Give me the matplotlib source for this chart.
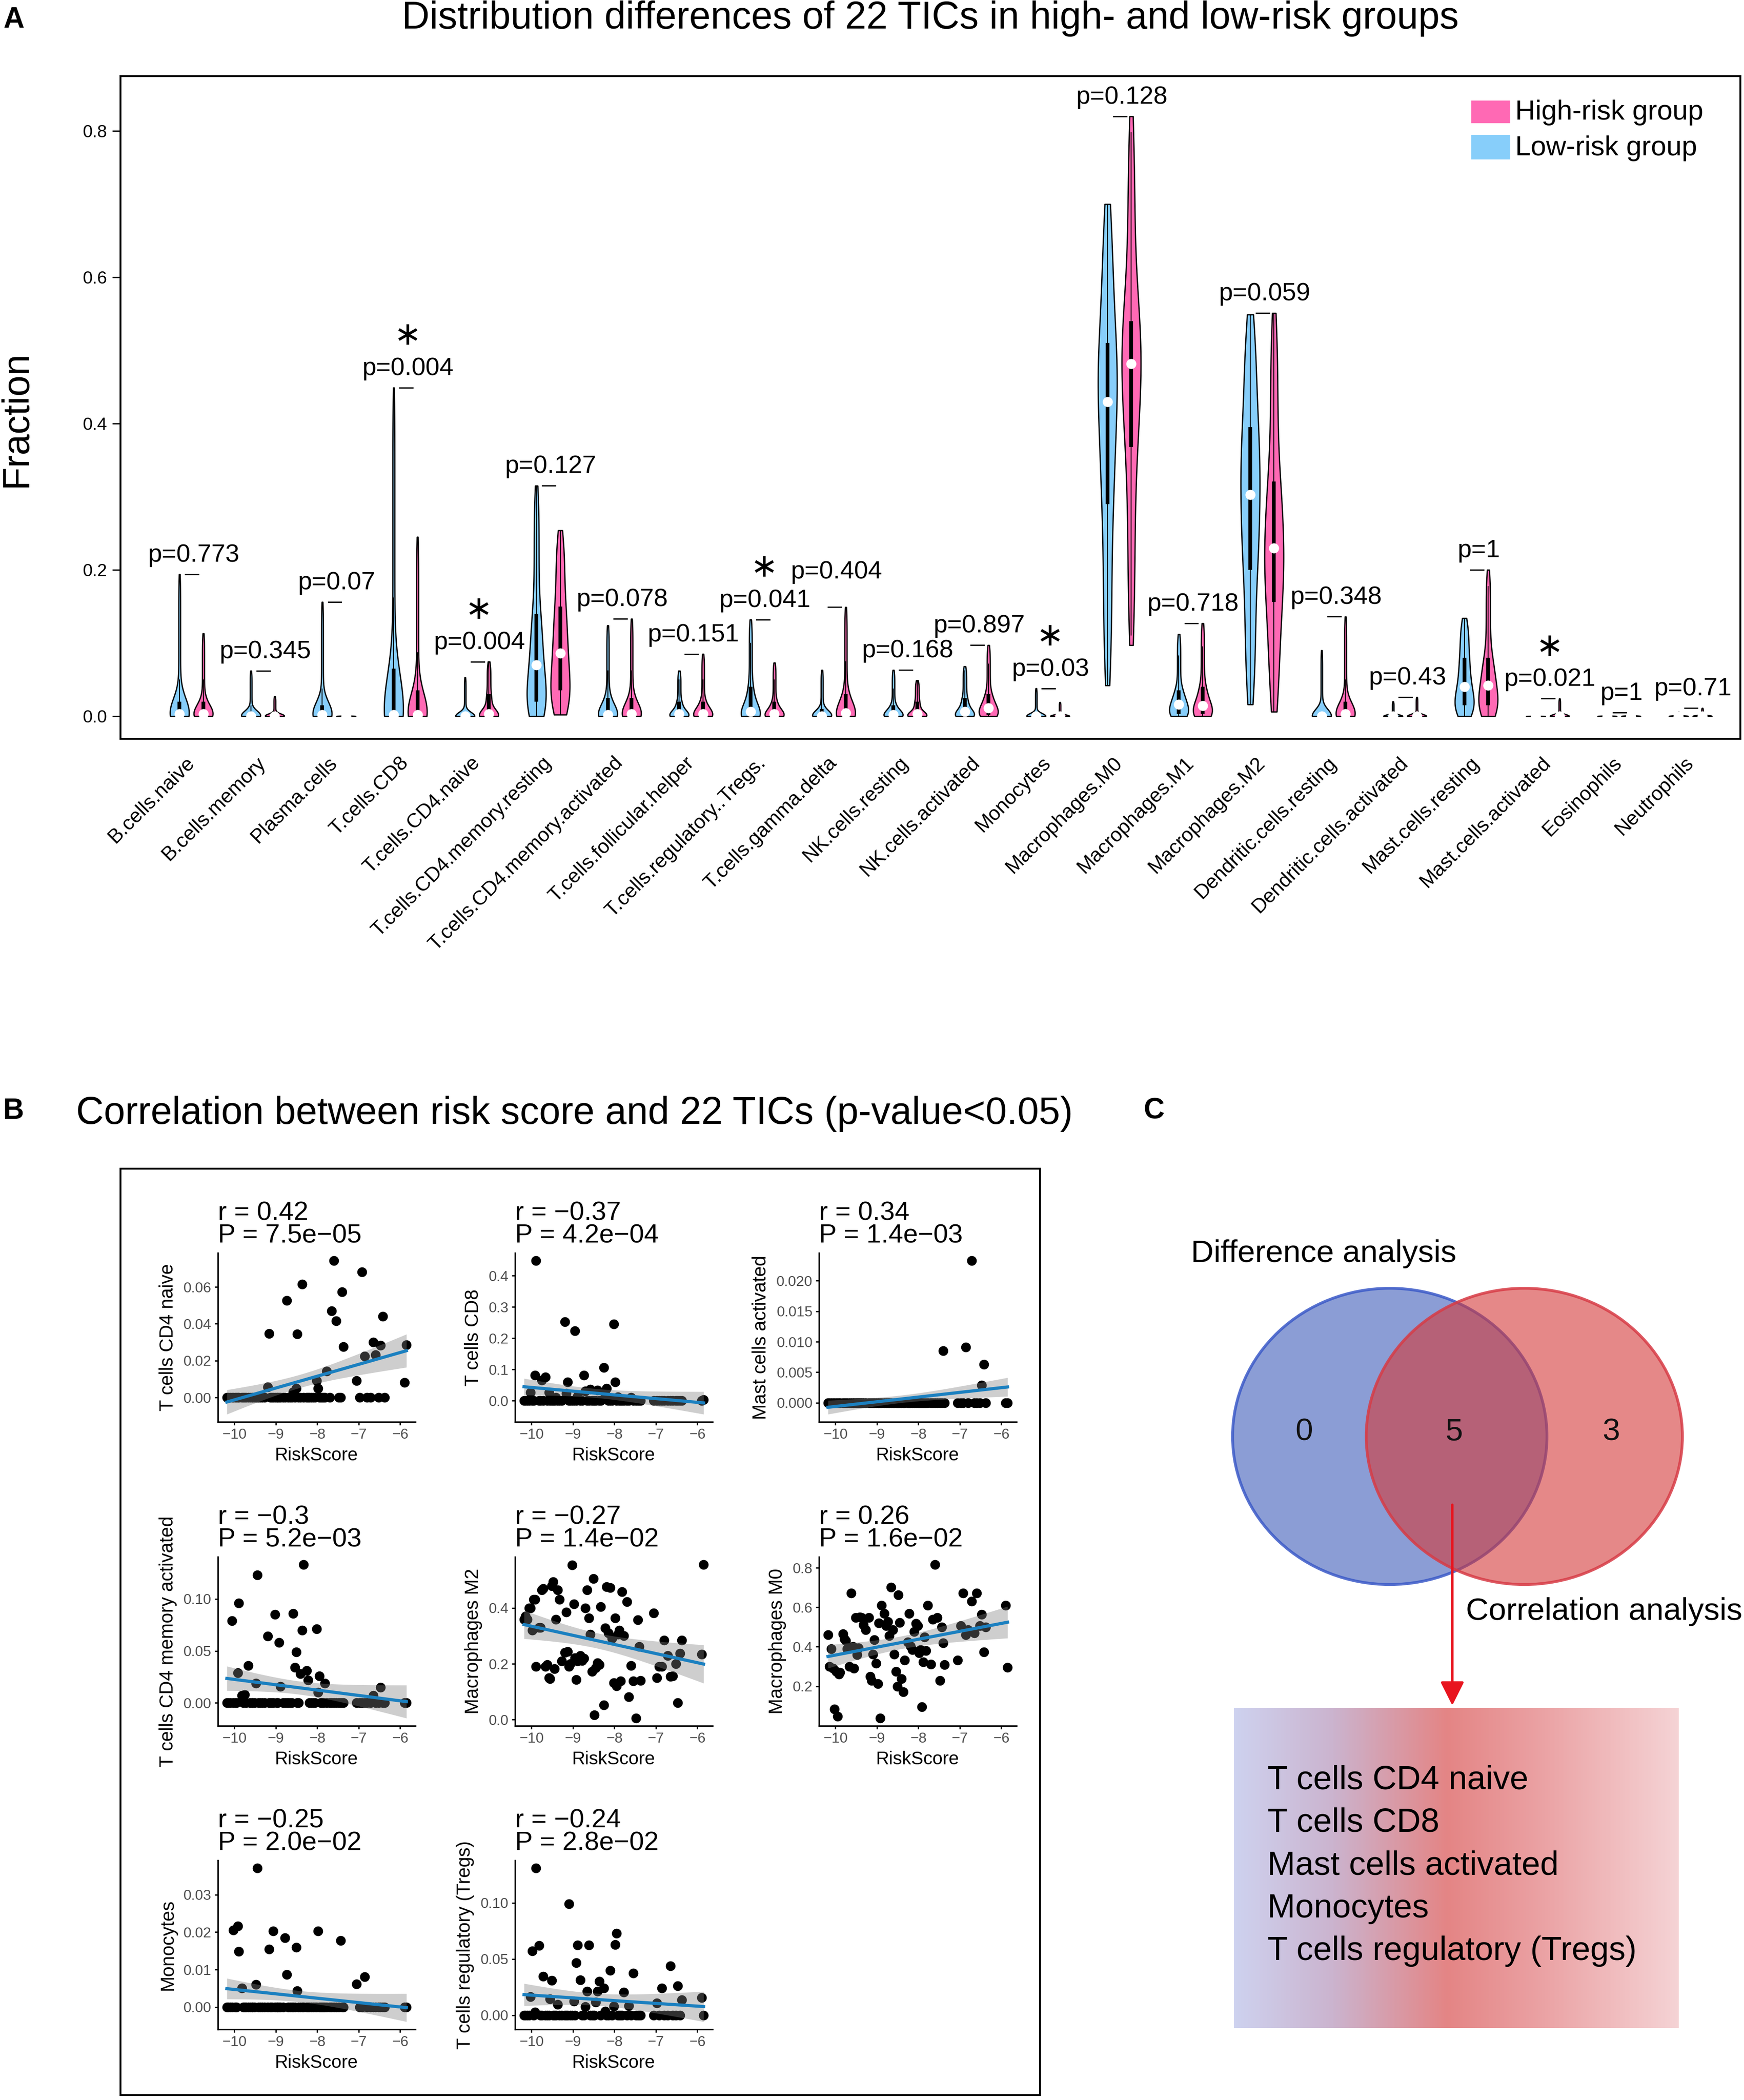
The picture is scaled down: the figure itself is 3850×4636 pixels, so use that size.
import math

import matplotlib.pyplot as plt
import numpy as np
from matplotlib.colors import LinearSegmentedColormap
from matplotlib.patches import Ellipse, Rectangle

plt.rcParams["font.family"] = ["Liberation Sans", "DejaVu Sans"]

W, H = 3850, 4636

# ---------------- panel A data ----------------
cells = ["B.cells.naive", "B.cells.memory", "Plasma.cells", "T.cells.CD8",
         "T.cells.CD4.naive", "T.cells.CD4.memory.resting",
         "T.cells.CD4.memory.activated", "T.cells.follicular.helper",
         "T.cells.regulatory..Tregs.", "T.cells.gamma.delta", "NK.cells.resting",
         "NK.cells.activated", "Monocytes", "Macrophages.M0", "Macrophages.M1",
         "Macrophages.M2", "Dendritic.cells.resting", "Dendritic.cells.activated",
         "Mast.cells.resting", "Mast.cells.activated", "Eosinophils", "Neutrophils"]
p_values = ["0.773", "0.345", "0.07", "0.004", "0.004", "0.127", "0.078", "0.151",
            "0.041", "0.404", "0.168", "0.897", "0.03", "0.128", "0.718", "0.059",
            "0.348", "0.43", "1", "0.021", "1", "0.71"]
# (min, q1, median, q3, max) per cell type
low_q = [(0, 0, 0.003, 0.02, 0.194), (0, 0, 0.0, 0.006, 0.062), (0, 0, 0.002, 0.015, 0.156),
         (0, 0, 0.002, 0.065, 0.449), (0, 0, 0, 0, 0.053), (0, 0.02, 0.07, 0.14, 0.315),
         (0, 0, 0.002, 0.025, 0.124), (0, 0, 0.003, 0.02, 0.062), (0, 0, 0.006, 0.04, 0.132),
         (0, 0, 0, 0.01, 0.063), (0, 0, 0.002, 0.015, 0.063), (0, 0, 0.006, 0.025, 0.068),
         (0, 0, 0, 0, 0.038), (0.042, 0.29, 0.43, 0.51, 0.70), (0, 0.003, 0.016, 0.035, 0.112),
         (0.016, 0.2, 0.303, 0.395, 0.549), (0, 0, 0, 0.002, 0.09), (0, 0, 0, 0, 0.02),
         (0, 0.015, 0.04, 0.08, 0.134), (0, 0, 0, 0, 0.001), (0, 0, 0, 0, 0.003),
         (0, 0, 0, 0, 0.006)]
high_q = [(0, 0, 0.003, 0.02, 0.113), (0, 0, 0, 0.003, 0.027), (0, 0, 0, 0, 0.003),
          (0, 0, 0.002, 0.035, 0.245), (0, 0, 0.003, 0.03, 0.0745), (0.002, 0.035, 0.086, 0.15, 0.254),
          (0, 0, 0.003, 0.025, 0.133), (0, 0, 0.003, 0.02, 0.085), (0, 0, 0.003, 0.02, 0.073),
          (0, 0, 0.004, 0.03, 0.149), (0, 0, 0.003, 0.02, 0.049), (0, 0.002, 0.011, 0.03, 0.097),
          (0, 0, 0, 0, 0.019), (0.097, 0.368, 0.482, 0.54, 0.82), (0, 0.003, 0.014, 0.04, 0.127),
          (0.006, 0.156, 0.23, 0.321, 0.551), (0, 0, 0.003, 0.02, 0.136), (0, 0, 0, 0, 0.026),
          (0, 0.015, 0.042, 0.08, 0.2), (0, 0, 0, 0, 0.024), (0, 0, 0, 0, 0.005),
          (0, 0, 0, 0, 0.011)]

# ---------------- panel B data ----------------
risk_score = np.array([
    -10.18, -10.14, -10.10, -10.06, -10.03, -9.98, -9.95, -9.92, -9.89, -9.82,
    -9.78, -9.75, -9.72, -9.66, -9.62, -9.58, -9.55, -9.51, -9.48, -9.45,
    -9.41, -9.37, -9.33, -9.27, -9.20, -9.16, -9.13, -9.10, -9.06, -9.02,
    -8.98, -8.95, -8.92, -8.89, -8.82, -8.78, -8.74, -8.70, -8.66, -8.62,
    -8.58, -8.54, -8.51, -8.48, -8.45, -8.41, -8.37, -8.33, -8.26, -8.22,
    -8.19, -8.15, -8.10, -8.06, -8.02, -7.98, -7.95, -7.92, -7.88, -7.85,
    -7.82, -7.78, -7.70, -7.65, -7.60, -7.55, -7.48, -7.44, -7.40, -7.37,
    -7.05, -6.98, -6.92, -6.86, -6.80, -6.72, -6.65, -6.60, -6.52, -6.47,
    -6.42, -6.38, -5.90, -5.85])
macro_m2 = [0.36, 0.37, 0.36, 0.40, 0.40, 0.32, 0.43, 0.43, 0.19, 0.33,
            0.33, 0.465, 0.47, 0.19, 0.197, 0.15, 0.146, 0.48, 0.494, 0.183,
            0.36, 0.465, 0.43, 0.21, 0.24, 0.386, 0.244, 0.19, 0.20, 0.554,
            0.414, 0.222, 0.143, 0.21, 0.23, 0.211, 0.22, 0.40, 0.465, 0.364,
            0.306, 0.172, 0.505, 0.016, 0.186, 0.204, 0.197, 0.404, 0.052, 0.328,
            0.476, 0.31, 0.473, 0.291, 0.132, 0.364, 0.12, 0.306, 0.32, 0.139,
            0.458, 0.30, 0.423, 0.081, 0.193, 0.139, 0.005, 0.357, 0.262, 0.14,
            0.382, 0.15, 0.19, 0.19, 0.284, 0.23, 0.154, 0.157, 0.2, 0.061,
            0.237, 0.284, 0.235, 0.556]
macro_m0 = [0.461, 0.30, 0.389, 0.291, 0.085, 0.275, 0.048, 0.26, 0.27, 0.466,
            0.44, 0.43, 0.39, 0.30, 0.672, 0.40, 0.291, 0.548, 0.36, 0.394,
            0.55, 0.548, 0.512, 0.487, 0.548, 0.249, 0.229, 0.363, 0.435, 0.316,
            0.213, 0.52, 0.038, 0.61, 0.569, 0.507, 0.528, 0.456, 0.703, 0.487,
            0.363, 0.275, 0.198, 0.662, 0.523, 0.239, 0.172, 0.332, 0.425, 0.569,
            0.404, 0.384, 0.476, 0.518, 0.507, 0.368, 0.384, 0.095, 0.322, 0.45,
            0.38, 0.61, 0.311, 0.54, 0.817, 0.548, 0.229, 0.5, 0.42, 0.31,
            0.332, 0.507, 0.672, 0.461, 0.487, 0.631, 0.47, 0.672, 0.507, 0.564,
            0.373, 0.5, 0.61, 0.296]
# non-zero samples (risk score, fraction); all other samples are 0
cd4_naive_pts = [(-9.17, 0.0348), (-8.73, 0.0527), (-8.48, 0.0345), (-8.35, 0.0615),
                 (-8.50, 0.005), (-8.58, 0.003), (-9.17, 0.0056), (-8.00, 0.009),
                 (-8.02, 0.005), (-7.78, 0.0142), (-7.62, 0.0743), (-7.62, 0.047),
                 (-7.54, 0.0415), (-7.42, 0.0572), (-7.37, 0.0275), (-7.02, 0.009),
                 (-6.94, 0.0682), (-6.85, 0.0224), (-6.65, 0.030), (-6.60, 0.0232),
                 (-6.45, 0.0284), (-6.40, 0.044), (-5.90, 0.0082), (-5.85, 0.0286)]
cd8_pts = [(-9.89, 0.448), (-9.18, 0.252), (-8.96, 0.224), (-8.01, 0.245), (-8.29, 0.106),
           (-8.74, 0.081), (-9.93, 0.081), (-9.68, 0.076), (-9.75, 0.066), (-9.12, 0.060),
           (-7.98, 0.060), (-8.19, 0.040), (-9.59, 0.026), (-10.04, 0.026), (-9.21, 0.023),
           (-8.60, 0.036), (-8.40, 0.033), (-8.69, 0.030), (-8.20, 0.020), (-7.60, 0.010),
           (-8.90, 0.015), (-7.90, 0.012), (-9.40, 0.010), (-5.85, 0.003)]
mast_act_pts = [(-6.76, 0.0233), (-7.42, 0.0085), (-6.85, 0.0091), (-6.40, 0.0063),
                (-6.44, 0.0029)]
cd4_mem_act_pts = [(-8.32, 0.133), (-9.45, 0.123), (-9.89, 0.096), (-10.05, 0.079),
                   (-9.04, 0.085), (-8.56, 0.086), (-8.36, 0.070), (-8.03, 0.071),
                   (-9.23, 0.064), (-8.93, 0.058), (-8.52, 0.049), (-8.55, 0.034),
                   (-8.29, 0.031), (-8.32, 0.028), (-9.66, 0.036), (-9.89, 0.029),
                   (-7.95, 0.026), (-7.82, 0.019), (-9.48, 0.019), (-8.90, 0.016),
                   (-8.33, 0.022), (-8.00, 0.010), (-9.86, 0.007), (-9.75, 0.008),
                   (-6.47, 0.015), (-6.67, 0.007)]
monocyte_pts = [(-9.45, 0.0371), (-10.03, 0.0205), (-9.93, 0.0216), (-9.91, 0.0148),
                (-9.07, 0.0203), (-9.15, 0.0154), (-8.79, 0.0185), (-8.52, 0.0159),
                (-7.98, 0.0203), (-7.45, 0.0177), (-8.74, 0.0087), (-7.04, 0.0061),
                (-6.87, 0.0081), (-9.47, 0.0060), (-9.88, 0.0050), (-8.50, 0.0043)]
treg_pts = [(-9.90, 0.131), (-9.11, 0.099), (-10.00, 0.057), (-9.86, 0.062), (-8.87, 0.0626),
            (-8.62, 0.0626), (-8.90, 0.0465), (-7.95, 0.0728), (-7.98, 0.063), (-8.10, 0.040),
            (-7.52, 0.0376), (-6.63, 0.0439), (-9.73, 0.0346), (-9.50, 0.031), (-8.80, 0.0315),
            (-8.37, 0.0301), (-8.25, 0.0242), (-8.41, 0.0213), (-8.67, 0.0213), (-7.78, 0.0203),
            (-6.86, 0.0242), (-6.46, 0.0262), (-6.39, 0.0138), (-5.88, 0.0157), (-10.00, 0.0163),
            (-9.54, 0.0144), (-9.38, 0.0094), (-9.00, 0.0124), (-8.70, 0.0075), (-8.46, 0.0114),
            (-7.98, 0.0079), (-7.67, 0.0085), (-6.97, 0.0108), (-9.86, 0.0026), (-8.22, 0.0035)]

corr_names = ["T cells CD4 naive", "T cells CD8", "Mast cells activated",
              "T cells CD4 memory activated", "Macrophages M2", "Macrophages M0",
              "Monocytes", "T cells regulatory (Tregs)"]
corr_r = ["0.42", "\u22120.37", "0.34", "\u22120.3", "\u22120.27", "0.26", "\u22120.25", "\u22120.24"]
corr_p = ["7.5e\u221205", "4.2e\u221204", "1.4e\u221203", "5.2e\u221203", "1.4e\u221202",
          "1.6e\u221202", "2.0e\u221202", "2.8e\u221202"]
corr_yticks = [["0.00", "0.02", "0.04", "0.06"], ["0.0", "0.1", "0.2", "0.3", "0.4"],
               ["0.000", "0.005", "0.010", "0.015", "0.020"], ["0.00", "0.05", "0.10"],
               ["0.0", "0.2", "0.4"], ["0.2", "0.4", "0.6", "0.8"],
               ["0.00", "0.01", "0.02", "0.03"], ["0.00", "0.05", "0.10"]]
risk_ticks = [-10, -9, -8, -7, -6]

# ---------------- panel C data ----------------
venn_counts = ["0", "5", "3"]
shared_cells = ["T cells CD4 naive", "T cells CD8", "Mast cells activated", "Monocytes",
                "T cells regulatory (Tregs)"]

LOW = "#87CEFA"
HIGH = "#FF69B4"
REG_BLUE = "#1B80C0"


def px_rect(x0, y0, x1, y1):
    return [x0 / W, 1 - y1 / H, (x1 - x0) / W, (y1 - y0) / H]


erf = np.vectorize(math.erf)


def violin_profile(q, n=300):
    lo, q1, med, q3, hi = q
    y = np.linspace(lo, hi, n)
    span = max(hi - lo, 1e-6)
    h = max(0.25 * (q3 - q1), 0.1 * span)
    dens = np.zeros_like(y)
    for a, b in [(lo, q1), (q1, med), (med, q3), (q3, hi)]:
        if b - a < 1e-9:
            dens += 0.25 * np.exp(-0.5 * ((y - a) / h) ** 2) / (h * np.sqrt(2 * np.pi))
        else:
            s = h * np.sqrt(2)
            dens += 0.25 * (erf((y - a) / s) - erf((y - b) / s)) / (2 * (b - a))
    return y, dens / dens.max() * 0.4


def draw_violin(ax, x, q, color):
    lo, q1, med, q3, hi = q
    y, half = violin_profile(q)
    ax.fill_betweenx(y, x - half, x + half, facecolor=color, edgecolor="black",
                     linewidth=2, zorder=2)
    iqr = q3 - q1
    ax.vlines(x, max(lo, q1 - 1.5 * iqr), min(hi, q3 + 1.5 * iqr), color="black",
              lw=1.5, zorder=3)
    ax.vlines(x, q1, q3, color="black", lw=6, zorder=3)
    ax.plot(x, med, "o", color="white", ms=16, mec="none", zorder=4)


def place(pairs):
    y = np.zeros(len(risk_score))
    used = set()
    for x, v in pairs:
        for idx in np.argsort(np.abs(risk_score - x)):
            if idx not in used:
                used.add(idx)
                y[idx] = v
                break
    return y


def corr_panel(ax, y, name, r, p, ticks):
    x = risk_score
    y = np.asarray(y, dtype=float)
    ax.scatter(x, y, s=240, color="black", linewidths=0, zorder=2)
    slope, icpt = np.polyfit(x, y, 1)
    xs = np.linspace(x.min(), x.max(), 100)
    fit = icpt + slope * xs
    n = len(x)
    resid = y - (icpt + slope * x)
    s = np.sqrt(np.sum(resid ** 2) / (n - 2))
    se = s * np.sqrt(1 / n + (xs - x.mean()) ** 2 / np.sum((x - x.mean()) ** 2))
    lo_b, hi_b = fit - 1.99 * se, fit + 1.99 * se
    ax.fill_between(xs, lo_b, hi_b, color="grey", alpha=0.38, lw=0, zorder=3)
    ax.plot(xs, fit, color=REG_BLUE, lw=5, zorder=4)
    xr = x.max() - x.min()
    ax.set_xlim(x.min() - 0.05 * xr, x.max() + 0.05 * xr)
    ylo, yhi = min(y.min(), lo_b.min()), max(y.max(), hi_b.max())
    yr = yhi - ylo
    ax.set_ylim(ylo - 0.05 * yr, yhi + 0.05 * yr)
    ax.set_xticks(risk_ticks)
    ax.set_yticks([float(t) for t in ticks])
    ax.set_yticklabels(ticks)
    for side in ["top", "right"]:
        ax.spines[side].set_visible(False)
    for side in ["left", "bottom"]:
        ax.spines[side].set_linewidth(2.4)
    ax.tick_params(labelsize=23, labelcolor="#4D4D4D", length=5, width=2, pad=5)
    ax.set_xlabel("RiskScore", fontsize=29, labelpad=8)
    ax.set_ylabel(name, fontsize=30, labelpad=10)
    ax.set_title(f"r = {r}\nP = {p}", loc="left", fontsize=42, linespacing=0.92, pad=16)


fig = plt.figure(figsize=(W / 100, H / 100), dpi=100)

# ---------------- panel A ----------------
ax = fig.add_axes(px_rect(266, 168, 3842, 1631))
label_lift = {"T.cells.gamma.delta": 0.022}
for i, cell in enumerate(cells):
    draw_violin(ax, 3 * i + 1, low_q[i], LOW)
    draw_violin(ax, 3 * i + 2, high_q[i], HIGH)
    seg = max(low_q[i][4], high_q[i][4])
    ax.plot([3 * i + 1.25, 3 * i + 1.8], [seg, seg], color="black", lw=2, zorder=3)
    ty = seg + 0.026 + label_lift.get(cell, 0)
    ax.text(3 * i + 1.6, ty, f"p={p_values[i]}", ha="center", va="center", fontsize=40)
    if float(p_values[i]) < 0.05:
        ax.text(3 * i + 1.5, ty + 0.044, r"$\ast$", ha="center", va="center", fontsize=52)

ax.set_xlim(-1.48, 66.6)
ax.set_ylim(-0.031, 0.875)
ax.set_xticks([3 * i + 1.5 for i in range(len(cells))])
ax.set_xticklabels(cells, rotation=45, ha="right", va="center", rotation_mode="anchor",
                   fontsize=32)
ax.tick_params(axis="x", length=0, pad=34)
ax.set_yticks([0, 0.2, 0.4, 0.6, 0.8])
ax.set_yticklabels(["0.0", "0.2", "0.4", "0.6", "0.8"])
ax.tick_params(axis="y", labelsize=28, length=13, width=2, pad=8)
for sp in ax.spines.values():
    sp.set_linewidth(3)

ax.add_patch(Rectangle((0.834, 0.929), 0.024, 0.034, transform=ax.transAxes,
                       facecolor=HIGH, edgecolor="none"))
ax.add_patch(Rectangle((0.834, 0.874), 0.024, 0.037, transform=ax.transAxes,
                       facecolor=LOW, edgecolor="none"))
ax.text(0.861, 0.945, "High-risk group", transform=ax.transAxes, va="center", fontsize=44)
ax.text(0.861, 0.891, "Low-risk group", transform=ax.transAxes, va="center", fontsize=44)

fig.text(36 / W, 1 - 925 / H, "Fraction", rotation=90, ha="center", va="center", fontsize=60)
fig.text(2054 / W, 1 - 41 / H, "Distribution differences of 22 TICs in high- and low-risk groups",
         ha="center", va="center", fontsize=61)
fig.text(30 / W, 1 - 44 / H, "A", ha="center", va="center", fontsize=46, fontweight="bold")

# ---------------- panel B ----------------
fig.text(30 / W, 1 - 2453 / H, "B", ha="center", va="center", fontsize=46, fontweight="bold")
fig.text(168 / W, 1 - 2459 / H, "Correlation between risk score and 22 TICs (p-value<0.05)",
         ha="left", va="center", fontsize=61)
fig.add_artist(Rectangle((266 / W, 1 - 4625 / H), (2296 - 266) / W, (4625 - 2580) / H,
                         transform=fig.transFigure, fill=False, lw=3, edgecolor="black"))

corr_values = [place(cd4_naive_pts), place(cd8_pts), place(mast_act_pts),
               place(cd4_mem_act_pts), macro_m2, macro_m0, place(monocyte_pts),
               place(treg_pts)]
col_left = [481, 1137, 1808]
row_top = [2766, 3437, 4107]
for k in range(len(corr_names)):
    r_i, c_i = divmod(k, 3)
    x0, y0 = col_left[c_i], row_top[r_i]
    axb = fig.add_axes(px_rect(x0, y0, x0 + 436, y0 + 373))
    corr_panel(axb, corr_values[k], corr_names[k], corr_r[k], corr_p[k], corr_yticks[k])

# ---------------- panel C ----------------
fig.text(2547 / W, 1 - 2453 / H, "C", ha="center", va="center", fontsize=46, fontweight="bold")
axc = fig.add_axes(px_rect(2500, 2500, 3850, 4636))
axc.set_xlim(2500, 3850)
axc.set_ylim(4636, 2500)
axc.axis("off")

axc.add_patch(Ellipse((3068, 3171), 694, 654, facecolor=(62 / 255, 92 / 255, 185 / 255, 0.6),
                      edgecolor=(60 / 255, 90 / 255, 200 / 255, 0.85), lw=4.5, zorder=2))
axc.add_patch(Ellipse((3365, 3171), 698, 654, facecolor=(212 / 255, 57 / 255, 57 / 255, 0.6),
                      edgecolor=(215 / 255, 60 / 255, 70 / 255, 0.85), lw=4.5, zorder=3))
for txt, xx in zip(venn_counts, [2879, 3210, 3557]):
    axc.text(xx, 3162, txt, ha="center", va="center", fontsize=50, color="#111111", zorder=5)
axc.text(2629, 2768, "Difference analysis", ha="left", va="center", fontsize=50)
axc.text(3236, 3558, "Correlation analysis", ha="left", va="center", fontsize=50)

axc.annotate("", xy=(3206, 3765), xytext=(3206, 3322),
             arrowprops=dict(arrowstyle="-|>", color="#E8141E", lw=4, mutation_scale=80,
                             shrinkA=0, shrinkB=0), zorder=6)

grad_cmap = LinearSegmentedColormap.from_list(
    "grad", [(0.0, "#CED2EF"), (0.22, "#CBB4CF"), (0.48, "#E48585"), (0.7, "#EBA3A5"),
             (1.0, "#F5D3D5")])
axc.imshow(np.linspace(0, 1, 256)[None, :], cmap=grad_cmap, aspect="auto",
           extent=(2724, 3706, 4477, 3771), zorder=1)
axc.set_xlim(2500, 3850)
axc.set_ylim(4636, 2500)
for j, name in enumerate(shared_cells):
    axc.text(2798, 3930 + j * 94.5, name, ha="left", va="center", fontsize=53, zorder=5)

fig.savefig("out.png", dpi=100)
